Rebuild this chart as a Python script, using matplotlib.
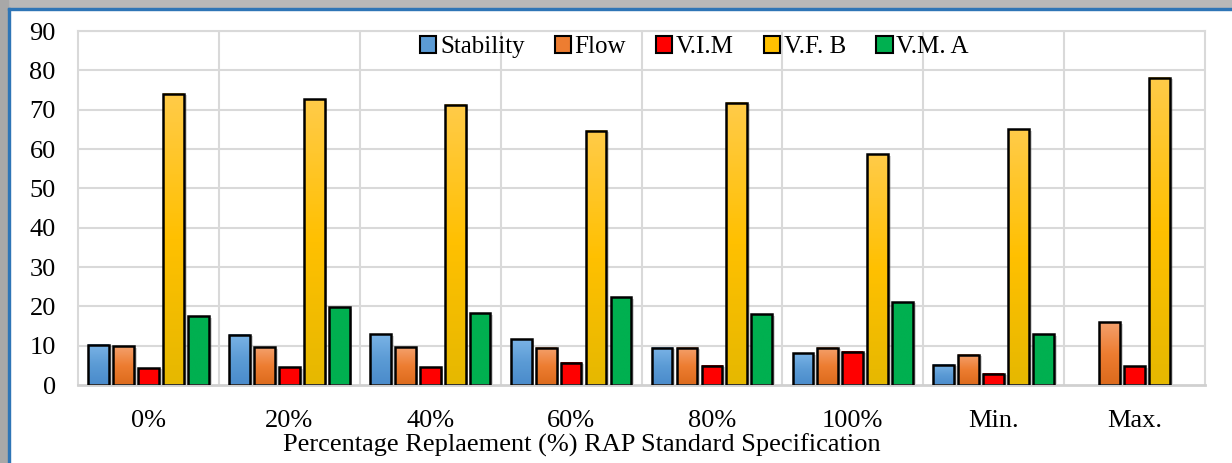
from matplotlib import pyplot as pl
from matplotlib import patches as mpatches
from matplotlib import patheffects as pe
from matplotlib.colors import LinearSegmentedColormap
import numpy as np

categories = ['0%', '20%', '40%', '60%', '80%', '100%', 'Min.', 'Max.']
series = ['Stability', 'Flow', 'V.I.M', 'V.F. B', 'V.M. A']

stability = [10.2, 12.8, 12.9, 11.6, 9.5, 8.1, 5.2, np.nan]
flow = [9.8, 9.6, 9.6, 9.5, 9.5, 9.5, 7.7, 15.9]
vim = [4.3, 4.5, 4.5, 5.7, 4.9, 8.5, 2.8, 4.8]
vfb = [74.0, 72.6, 71.3, 64.7, 71.8, 58.7, 65.0, 78.1]
vma = [17.5, 19.8, 18.2, 22.3, 18.0, 21.1, 12.9, np.nan]

values = [stability, flow, vim, vfb, vma]

# top colour, middle colour, bottom colour
colours = [
    ('#7ab3e6', '#5b9bd5', '#4a8bcb'),
    ('#f4a06c', '#ed7d31', '#dc6a1c'),
    ('#ff0000', '#ff0000', '#ff0000'),
    ('#ffcb48', '#ffc000', '#e6b800'),
    ('#00b050', '#00b050', '#00b050'),
]

pl.rcParams['font.family'] = ['Liberation Serif', 'DejaVu Serif']

fig = pl.figure(figsize=(12.32, 4.63), dpi=100)

# frame around the chart: grey band plus blue line at top and left
fig.patches.append(mpatches.Rectangle((0, 1 - 8/463), 1, 8/463,
                   transform=fig.transFigure, color='#b8b8b8', zorder=0))
fig.patches.append(mpatches.Rectangle((0, 0), 8/1232, 1,
                   transform=fig.transFigure, color='#a8a8a8', zorder=0))
fig.patches.append(mpatches.Rectangle((8/1232, 1 - 10/463), 1, 2/463,
                   transform=fig.transFigure, color='#2e75b6', zorder=1))
fig.patches.append(mpatches.Rectangle((8/1232, 0), 2/1232, 1 - 8/463,
                   transform=fig.transFigure, color='#2e75b6', zorder=1))

ax = fig.add_axes([78/1232, 1 - 385/463, 1127/1232, 354/463])

pitch = 0.177
width = 0.148
x = np.arange(len(categories))

for j, vals in enumerate(values):
    top, mid, bot = colours[j]
    cmap = LinearSegmentedColormap.from_list('g%d' % j, [bot, mid, top])
    grad = np.linspace(0, 1, 64).reshape(-1, 1)
    for i, v in enumerate(vals):
        if np.isnan(v):
            continue
        x0 = x[i] + (j - 2)*pitch - width/2
        # soft shadow behind the bar
        ax.add_patch(mpatches.Rectangle(
            (x0, 0), width, v, facecolor='white', edgecolor='none',
            zorder=1.5,
            path_effects=[pe.SimplePatchShadow(offset=(2, -1),
                                               shadow_rgbFace='#777777',
                                               alpha=0.3),
                          pe.Normal()]))
        ax.imshow(grad, extent=[x0, x0 + width, 0, v], origin='lower',
                  aspect='auto', cmap=cmap, zorder=2, interpolation='bicubic')
        ax.add_patch(mpatches.Rectangle(
            (x0, 0), width, v, facecolor='none', edgecolor='black',
            linewidth=1.8, zorder=3))

ax.set_xlim(-0.5, 7.5)
ax.set_ylim(0, 90)
ax.set_yticks(range(0, 91, 10))
ax.set_xticks(x)
ax.set_xticklabels(categories)

for yv in range(10, 91, 10):
    ax.axhline(yv, color='#d9d9d9', linewidth=1.5, zorder=0)
for xv in np.arange(0.5, 7.5, 1):
    ax.axvline(xv, color='#d9d9d9', linewidth=1.5, zorder=0)

for side in ['left', 'right', 'top']:
    ax.spines[side].set_color('#d9d9d9')
    ax.spines[side].set_linewidth(1.5)
ax.spines['bottom'].set_color('#d0d0d0')
ax.spines['bottom'].set_linewidth(2)

ax.tick_params(axis='both', length=0, labelsize=19)
ax.tick_params(axis='y', pad=16)
ax.tick_params(axis='x', pad=18)

ax.set_xlabel('Percentage Replaement (%) RAP Standard Specification',
              fontsize=19, labelpad=1, x=0.447)

handles = [mpatches.Patch(facecolor=colours[j][1], edgecolor='black',
                          linewidth=1.5, label=series[j])
           for j in range(len(series))]
ax.legend(handles=handles, loc='center', bbox_to_anchor=(0.547, 0.955),
          ncol=5, frameon=False, fontsize=18, handlelength=0.65,
          handleheight=0.65, handletextpad=0.15, columnspacing=1.2)

fig.savefig('out.png', dpi=100)
